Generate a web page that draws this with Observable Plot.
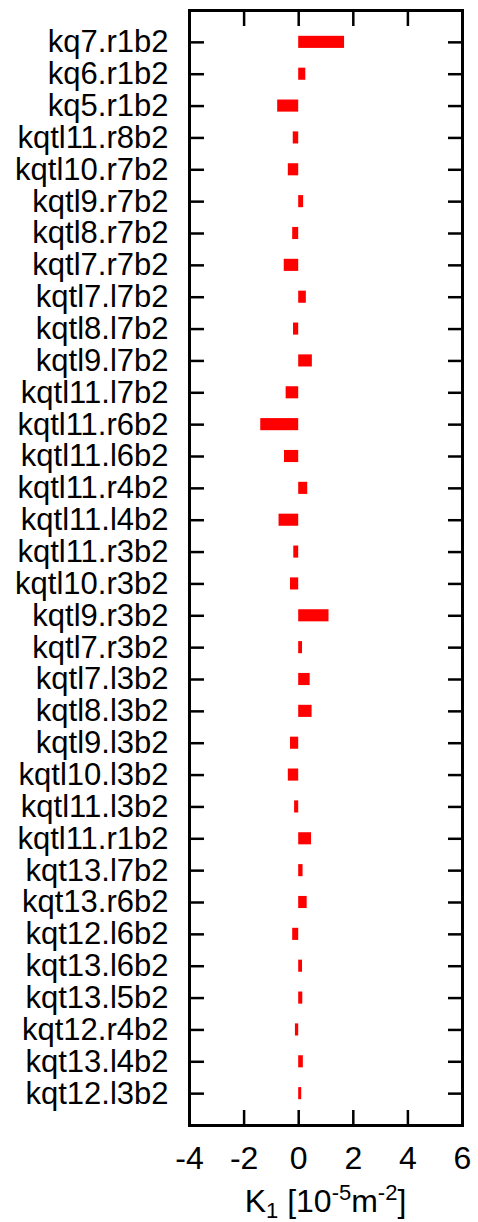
<!DOCTYPE html>
<html><head><meta charset="utf-8">
<script src="https://cdn.jsdelivr.net/npm/d3@7"></script>
<script src="https://cdn.jsdelivr.net/npm/@observablehq/plot@0.6"></script>
<style>html,body{margin:0;padding:0;background:#fff}</style>
</head><body><div id="chart"></div>
<script>
const categories = [
  "kq7.r1b2","kq6.r1b2","kq5.r1b2","kqtl11.r8b2","kqtl10.r7b2","kqtl9.r7b2","kqtl8.r7b2",
  "kqtl7.r7b2","kqtl7.l7b2","kqtl8.l7b2","kqtl9.l7b2","kqtl11.l7b2","kqtl11.r6b2","kqtl11.l6b2",
  "kqtl11.r4b2","kqtl11.l4b2","kqtl11.r3b2","kqtl10.r3b2","kqtl9.r3b2","kqtl7.r3b2","kqtl7.l3b2",
  "kqtl8.l3b2","kqtl9.l3b2","kqtl10.l3b2","kqtl11.l3b2","kqtl11.r1b2","kqt13.l7b2","kqt13.r6b2",
  "kqt12.l6b2","kqt13.l6b2","kqt13.l5b2","kqt12.r4b2","kqt13.l4b2","kqt12.l3b2"
];
const values = [
  1.68, 0.26, -0.77, -0.20, -0.38, 0.18, -0.22,
  -0.53, 0.28, -0.19, 0.50, -0.46, -1.39, -0.52,
  0.33, -0.72, -0.18, -0.30, 1.11, 0.14, 0.42,
  0.49, -0.30, -0.38, -0.15, 0.47, 0.16, 0.31,
  -0.22, 0.14, 0.15, -0.12, 0.17, 0.11
];
const xTicks = [-4, -2, 0, 2, 4, 6];
const xDomain = [-4, 6];

const data = categories.map((name, i) => ({name, value: values[i]}));

const plot = Plot.plot({
  width: 478,
  height: 1222,
  marginLeft: 189,
  marginRight: 16,
  marginTop: 10,
  marginBottom: 97,
  style: {fontFamily: "'Liberation Sans', Arial, sans-serif", fontSize: "32px", background: "#fff", color: "#000"},
  x: {domain: xDomain, ticks: xTicks, label: null},
  y: {type: "band", domain: categories, paddingInner: 0.62, paddingOuter: 0.81, round: false, label: null},
  marks: [
    Plot.barX(data, {x1: 0, x2: "value", y: "name", fill: "#ff0000"}),
    Plot.axisX({anchor: "bottom", ticks: xTicks, tickSize: -15, strokeWidth: 2.5, text: null, label: null}),
    Plot.axisX({anchor: "top", ticks: xTicks, tickSize: -15, strokeWidth: 2.5, text: null, label: null}),
    Plot.axisX({anchor: "bottom", ticks: xTicks, tickSize: 0, tickPadding: 21, tickFormat: d => String(d), label: null}),
    Plot.axisY({anchor: "left", tickSize: -15, strokeWidth: 2.5, text: null, label: null}),
    Plot.axisY({anchor: "right", tickSize: -15, strokeWidth: 2.5, text: null, label: null}),
    Plot.axisY({anchor: "left", tickSize: 0, tickPadding: 21, fontSize: 31, label: null}),
    Plot.frame({strokeWidth: 3})
  ]
});

document.getElementById("chart").appendChild(plot);

// x-axis title with subscript / superscripts
const xr = plot.scale("x").range;
const svg = d3.select(plot);
const t = svg.append("text")
  .attr("x", (xr[0] + xr[1]) / 2)
  .attr("y", 1212)
  .attr("text-anchor", "middle")
  .attr("font-size", 32)
  .attr("fill", "#000");
t.append("tspan").text("K");
t.append("tspan").attr("font-size", 22).attr("dy", 6).text("1");
t.append("tspan").attr("dy", -6).text(" [10");
t.append("tspan").attr("font-size", 22).attr("dy", -12).text("-5");
t.append("tspan").attr("dy", 12).text("m");
t.append("tspan").attr("font-size", 22).attr("dy", -12).text("-2");
t.append("tspan").attr("dy", 12).text("]");
</script>
</body></html>
